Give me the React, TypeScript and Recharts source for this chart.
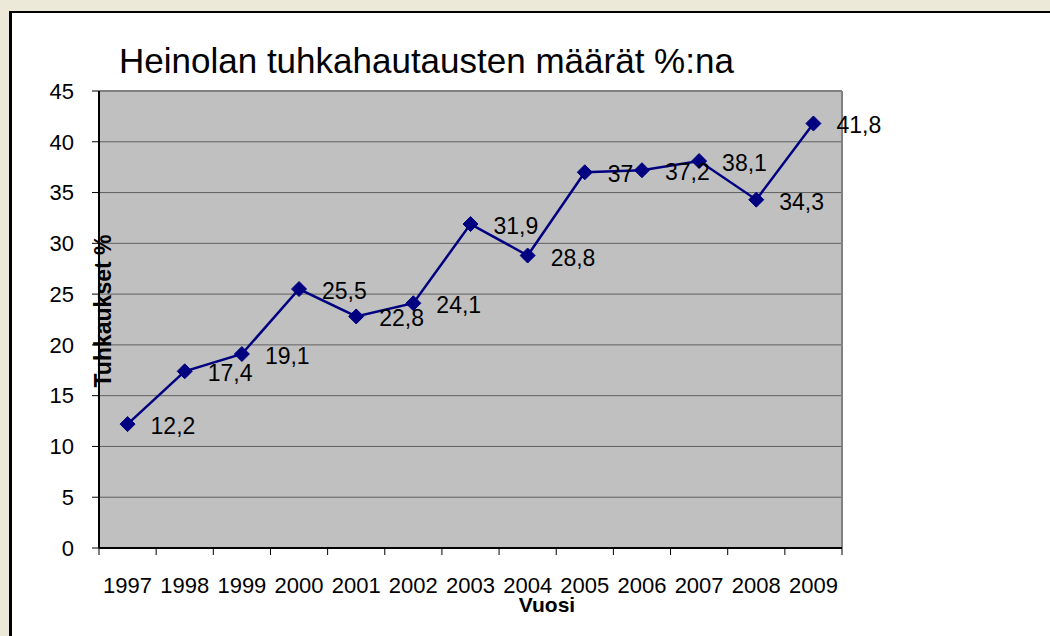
import {
  LineChart,
  Line,
  XAxis,
  YAxis,
  CartesianGrid,
  ReferenceLine,
  LabelList,
} from "recharts";

const years = [1997, 1998, 1999, 2000, 2001, 2002, 2003, 2004, 2005, 2006, 2007, 2008, 2009];
const shares = [12.2, 17.4, 19.1, 25.5, 22.8, 24.1, 31.9, 28.8, 37, 37.2, 38.1, 34.3, 41.8];
const yTicks = [0, 5, 10, 15, 20, 25, 30, 35, 40, 45];
const yearEdges = [
  1996.5, 1997.5, 1998.5, 1999.5, 2000.5, 2001.5, 2002.5, 2003.5, 2004.5, 2005.5, 2006.5,
  2007.5, 2008.5, 2009.5,
];

const title = "Heinolan tuhkahautausten määrät %:na";
const yTitle = "Tuhkaukset %";
const xTitle = "Vuosi";

const data = years.map((year, i) => ({ year, value: shares[i] }));

const FONT = "'Liberation Sans', Arial, sans-serif";

// Excel-style diamond marker
function Diamond(props: any) {
  const { cx, cy } = props;
  if (cx == null || cy == null) return null;
  const r = 7.5;
  return (
    <polygon
      points={`${cx},${cy - r} ${cx + r},${cy} ${cx},${cy + r} ${cx - r},${cy}`}
      fill="#000080"
      stroke="#000080"
    />
  );
}

function ValueLabel(props: any) {
  const { x, y, value } = props;
  return (
    <text
      x={x + 23}
      y={y + 2}
      fontSize={23}
      fontFamily={FONT}
      fill="#000"
      dominantBaseline="central"
    >
      {String(value).replace(".", ",")}
    </text>
  );
}

function NoLabel() {
  return <g />;
}

export default function App() {
  return (
    <div
      style={{
        position: "fixed",
        left: 0,
        top: 0,
        width: 1050,
        height: 636,
        background: "#ece9d8",
        overflow: "hidden",
      }}
    >
      <div
        style={{
          position: "absolute",
          left: 9,
          top: 11,
          width: 1060,
          height: 640,
          background: "#fff",
          borderLeft: "3px solid #000",
          borderTop: "2px solid #000",
        }}
      />
      <div style={{ position: "absolute", left: 0, top: 0 }}>
        <LineChart
          width={1050}
          height={636}
          data={data}
          margin={{ top: 91, right: 208, left: 39, bottom: 47 }}
        >
          <CartesianGrid
            vertical={false}
            fill="#c0c0c0"
            stroke="#606060"
            strokeWidth={1}
            xAxisId="edges"
          />
          <XAxis
            xAxisId="edges"
            dataKey="year"
            type="number"
            domain={[1996.5, 2009.5]}
            ticks={yearEdges}
            interval={0}
            tick={<NoLabel />}
            tickSize={7}
            height={1}
            axisLine={{ stroke: "#000", strokeWidth: 2 }}
            tickLine={{ stroke: "#000" }}
            allowDataOverflow
          />
          <XAxis
            xAxisId="years"
            dataKey="year"
            type="number"
            domain={[1996.5, 2009.5]}
            ticks={years}
            interval={0}
            height={40}
            tickSize={0}
            tickMargin={28}
            axisLine={false}
            tickLine={false}
            tick={{ fontSize: 22, fill: "#000", fontFamily: FONT }}
            allowDataOverflow
          />
          <YAxis
            domain={[0, 45]}
            ticks={yTicks}
            interval={0}
            width={60}
            tickSize={7}
            tickMargin={18}
            axisLine={{ stroke: "#000", strokeWidth: 2 }}
            tickLine={{ stroke: "#000" }}
            tick={{ fontSize: 22, fill: "#000", fontFamily: FONT }}
          />
          <ReferenceLine y={45} xAxisId="years" stroke="#808080" strokeWidth={2} />
          <ReferenceLine x={2009.5} xAxisId="years" stroke="#808080" strokeWidth={2} />
          <Line
            xAxisId="years"
            type="linear"
            dataKey="value"
            stroke="#000080"
            strokeWidth={2.5}
            dot={<Diamond />}
            activeDot={false}
            isAnimationActive={false}
          >
            <LabelList dataKey="value" content={<ValueLabel />} />
          </Line>
        </LineChart>
      </div>
      <svg
        width={1050}
        height={636}
        style={{ position: "absolute", left: 0, top: 0, pointerEvents: "none" }}
      >
        <text x={119} y={73} fontSize={35} fontFamily={FONT} fill="#000">
          {title}
        </text>
        <text
          x={103}
          y={311}
          fontSize={23}
          fontWeight="bold"
          fontFamily={FONT}
          fill="#000"
          textAnchor="middle"
          dominantBaseline="central"
          transform="rotate(-90 103 311)"
        >
          {yTitle}
        </text>
        <text
          x={547}
          y={612}
          fontSize={21}
          fontWeight="bold"
          fontFamily={FONT}
          fill="#000"
          textAnchor="middle"
        >
          {xTitle}
        </text>
      </svg>
    </div>
  );
}
